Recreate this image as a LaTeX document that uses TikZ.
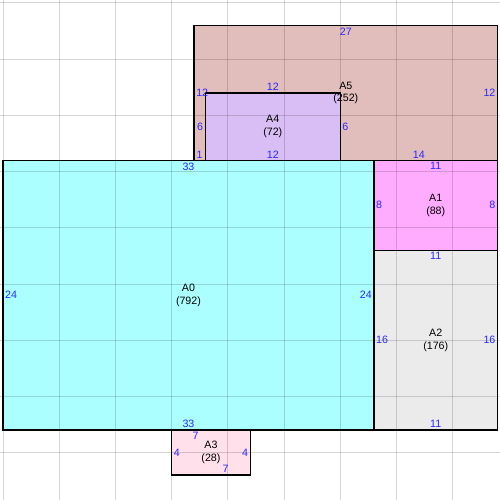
\documentclass[tikz,border=0pt]{standalone}
\usepackage{fontspec}
\setmainfont{Liberation Sans}
\definecolor{cA0}{RGB}{172,255,255}
\definecolor{cA1}{RGB}{255,172,255}
\definecolor{cA2}{RGB}{235,235,235}
\definecolor{cA3}{RGB}{255,224,235}
\definecolor{cA4}{RGB}{216,190,245}
\definecolor{cA5}{RGB}{225,190,187}
\definecolor{labblue}{RGB}{40,40,255}
\tikzset{
  box/.style={draw=black, line width=1.3pt},
  gridline/.style={draw=black, opacity=0.16, line width=1pt},
  dimlab/.style={text=labblue, inner sep=2pt, font=\fontsize{10.67}{12}\selectfont},
  namelab/.style={text=black, inner sep=0pt, align=center, font=\fontsize{10.67}{12.5}\selectfont},
}
\begin{document}
\begin{tikzpicture}[x=11.24pt, y=-11.24pt]
\useasboundingbox[fill=white] (-0.2669,-0.2669) rectangle (44.217,44.217);
% fills
\fill[cA5] (17,2) rectangle (44,14);
\fill[cA4] (18,8) rectangle (30,14);
\fill[cA0] (0,14) rectangle (33,38);
\fill[cA1] (33,14) rectangle (44,22);
\fill[cA2] (33,22) rectangle (44,38);
\fill[cA3] (15,38) rectangle (22,42);
% grid
\foreach \g in {0,5,...,40} {
  \draw[gridline] (\g,-0.2669) -- (\g,44.217);
  \draw[gridline] (-0.2669,\g) -- (44.217,\g);
}
% borders
\draw[box] (17,2) rectangle (44,14);
\draw[box] (18,8) rectangle (30,14);
\draw[box] (0,14) rectangle (33,38);
\draw[box] (33,14) rectangle (44,22);
\draw[box] (33,22) rectangle (44,38);
\draw[box] (15,38) rectangle (22,42);
% names
\node[namelab] (nA0) at (16.5,26) {A0\\(792)};
\node[namelab] (nA1) at (38.5,18) {A1\\(88)};
\node[namelab] (nA2) at (38.5,30) {A2\\(176)};
\node[namelab] (nA3) at (18.5,40) {A3\\(28)};
\node[namelab] (nA4) at (24,11) {A4\\(72)};
\node[namelab] (nA5) at (30.5,8) {A5\\(252)};
% A5 dimensions
\node[dimlab, anchor=north] (a5t) at (30.5,2) {27};
\node[dimlab, anchor=west] (a5l) at (17,8) {12};
\node[dimlab, anchor=east] (a5r) at (44,8) {12};
\node[dimlab, anchor=south] (a5b) at (37,14) {14};
\node[dimlab, anchor=south] (a5b1) at (17.5,14) {1};
% A4 dimensions
\node[dimlab, anchor=south] (a4t) at (24,8) {12};
\node[dimlab, anchor=east] (a4l) at (18,11) {6};
\node[dimlab, anchor=west] (a4r) at (30,11) {6};
\node[dimlab, anchor=south] (a4b) at (24,14) {12};
% A0 dimensions
\node[dimlab, anchor=north] (a0t) at (16.5,14) {33};
\node[dimlab, anchor=south] (a0b) at (16.5,38) {33};
\node[dimlab, anchor=west] (a0l) at (0,26) {24};
\node[dimlab, anchor=east] (a0r) at (33,26) {24};
% A1 dimensions
\node[dimlab, anchor=north] (a1t) at (38.5,14) {11};
\node[dimlab, anchor=west] (a1l) at (33,18) {8};
\node[dimlab, anchor=east] (a1r) at (44,18) {8};
% A2 dimensions
\node[dimlab, anchor=north] (a2t) at (38.5,22) {11};
\node[dimlab, anchor=west] (a2l) at (33,30) {16};
\node[dimlab, anchor=east] (a2r) at (44,30) {16};
\node[dimlab, anchor=south] (a2b) at (38.5,38) {11};
% A3 dimensions
\node[dimlab, anchor=north] (a3t) at (17.13,38) {7};
\node[dimlab, anchor=west] (a3l) at (15,40) {4};
\node[dimlab, anchor=east] (a3r) at (22,40) {4};
\node[dimlab, anchor=south] (a3b) at (19.8,42) {7};
\end{tikzpicture}
\end{document}
